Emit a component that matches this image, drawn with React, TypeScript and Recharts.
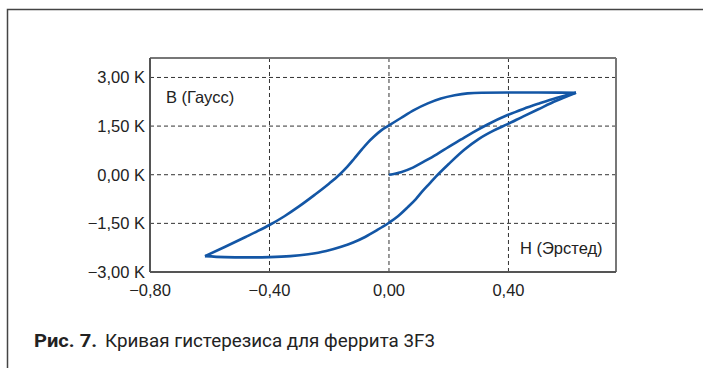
import React from 'react';
import { LineChart, Line, XAxis, YAxis, CartesianGrid, ReferenceLine } from 'recharts';

const xTicks = [-0.8, -0.4, 0, 0.4];
const yTicks = [-3, -1.5, 0, 1.5, 3];

// Initial magnetization curve (H in Oe, B in kG)
const initialH = [0, 0.04, 0.08, 0.118, 0.16, 0.2, 0.24, 0.28, 0.33, 0.397, 0.45, 0.5, 0.56, 0.626];
const initialB = [0, 0.08, 0.22, 0.41, 0.63, 0.86, 1.08, 1.3, 1.55, 1.84, 2.03, 2.19, 2.37, 2.53];

// Descending (upper) branch
const upperH = [-0.616, -0.55, -0.48, -0.44, -0.4, -0.35, -0.3, -0.25, -0.2, -0.166, -0.14, -0.116, -0.09, -0.07, -0.05, -0.027, 0, 0.04, 0.085, 0.13, 0.174, 0.22, 0.263, 0.31, 0.4, 0.5, 0.626];
const upperB = [-2.51, -2.23, -1.92, -1.74, -1.55, -1.28, -0.97, -0.63, -0.27, 0, 0.24, 0.5, 0.79, 1.0, 1.18, 1.36, 1.52, 1.75, 2.0, 2.2, 2.35, 2.45, 2.51, 2.53, 2.535, 2.535, 2.53];

// Ascending (lower) branch
const lowerH = [-0.616, -0.55, -0.48, -0.4, -0.33, -0.27, -0.21, -0.16, -0.12, -0.08, -0.04, 0, 0.03, 0.063, 0.09, 0.113, 0.135, 0.157, 0.2, 0.252, 0.3, 0.35, 0.397, 0.45, 0.5, 0.56, 0.626];
const lowerB = [-2.51, -2.54, -2.55, -2.54, -2.51, -2.45, -2.35, -2.22, -2.09, -1.92, -1.71, -1.48, -1.28, -1.0, -0.75, -0.5, -0.28, -0.06, 0.33, 0.77, 1.1, 1.36, 1.56, 1.8, 2.02, 2.28, 2.53];

const toPoints = (h: number[], b: number[]) => h.map((x, i) => ({ h: x, b: b[i] }));

const fmt = (v: number) => (v < 0 ? '\u2212' : '') + Math.abs(v).toFixed(2).replace('.', ',');

const BLUE = '#1356a5';
const tickStyle = { fill: '#222', fontSize: 16.5, fontFamily: 'Liberation Sans' };

export default function App() {
  return (
    <div style={{ position: 'absolute', left: 0, top: 0, width: 703, height: 368, background: '#fff' }}>
      <LineChart width={703} height={368} margin={{ top: 58, right: 87, bottom: 66, left: 50 }}>
        <CartesianGrid stroke="#333" strokeDasharray="4 3" strokeWidth={1} />
        <XAxis
          type="number"
          dataKey="h"
          domain={[-0.8, 0.76]}
          ticks={xTicks}
          tickFormatter={fmt}
          allowDataOverflow
          height={30}
          tickLine={false}
          tickSize={0}
          tickMargin={12}
          axisLine={{ stroke: '#555', strokeWidth: 2 }}
          tick={tickStyle}
        />
        <YAxis
          type="number"
          dataKey="b"
          domain={[-3, 3.6]}
          ticks={yTicks}
          tickFormatter={(v: number) => fmt(v) + ' K'}
          allowDataOverflow
          width={100}
          tickLine={false}
          tickSize={0}
          tickMargin={5}
          axisLine={{ stroke: '#555', strokeWidth: 2 }}
          tick={tickStyle}
        />
        <ReferenceLine y={3.6} stroke="#777" strokeWidth={2} />
        <ReferenceLine x={0.76} stroke="#777" strokeWidth={2} />
        <Line data={toPoints(upperH, upperB)} dataKey="b" type="monotone" stroke={BLUE} strokeWidth={2.6} dot={false} isAnimationActive={false} />
        <Line data={toPoints(lowerH, lowerB)} dataKey="b" type="monotone" stroke={BLUE} strokeWidth={2.6} dot={false} isAnimationActive={false} />
        <Line data={toPoints(initialH, initialB)} dataKey="b" type="monotone" stroke={BLUE} strokeWidth={2.6} dot={false} isAnimationActive={false} />
      </LineChart>
      <svg width={703} height={368} style={{ position: 'absolute', left: 0, top: 0, pointerEvents: 'none' }}>
        <path d="M7.5,368 L7.5,9.5 L703,9.5" fill="none" stroke="#444" strokeWidth={1.5} />
        <text x={166} y={103} fontSize={16.5} fontFamily="Liberation Sans" fill="#222">B (Гаусс)</text>
        <text x={520} y={254} fontSize={16.5} fontFamily="Liberation Sans" fill="#222">H (Эрстед)</text>
        <text x={34} y={347} fontSize={18.5} fontFamily="Roboto" fontWeight="bold" fill="#222" textLength={63} lengthAdjust="spacingAndGlyphs">Рис. 7.</text>
        <text x={105} y={347} fontSize={18.5} fontFamily="Roboto" fill="#222" textLength={330} lengthAdjust="spacingAndGlyphs">Кривая гистерезиса для феррита 3F3</text>
      </svg>
    </div>
  );
}
